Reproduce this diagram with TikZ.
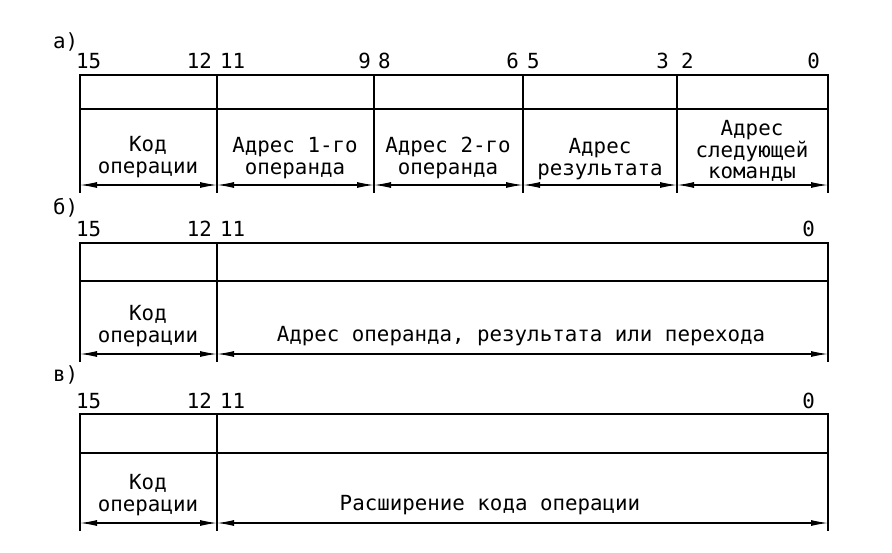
\documentclass[tikz,border=0pt]{standalone}
\usepackage{fontspec}
\setmainfont{DejaVu Sans Mono}
\usetikzlibrary{arrows.meta}
\begin{document}
\begin{tikzpicture}[x=1pt,y=-1pt]
\tikzset{
  reg/.style={line width=2.6pt},
  divline/.style={line width=1.7pt},
  dimline/.style={line width=1.2pt,{Latex[length=17pt,width=6pt]}-{Latex[length=17pt,width=6pt]}},
  txt/.style={font=\fontsize{20.8}{21.5}\selectfont,inner sep=0pt,align=center},
  numl/.style={txt,anchor=base west},
  numr/.style={txt,anchor=base east},
  part/.style={txt,anchor=west}
}
\useasboundingbox (0,0) rectangle (892,552);
\fill[white] (0,0) rectangle (892,552);

% ---------- a) ----------
\node[part] (la) at (53,42) {а)};
\foreach \n/\x in {0/80,1/217,2/374,3/523,4/677,5/828}{
  \coordinate (at\n) at (\x,75);
  \coordinate (ab\n) at (\x,193);
  \coordinate (aa\n) at (\x,185);
}
\draw[reg] (at0) rectangle (828,109);
\foreach \n in {0,...,5}{\draw[divline] (at\n) -- (ab\n);}
\foreach \a/\b in {0/1,1/2,2/3,3/4,4/5}{\draw[dimline] (aa\a) -- (aa\b);}
\node[numl] (a15) at (76,68) {15};
\node[numr] (a12) at (212,68) {12};
\node[numl] (a11) at (220,68) {11};
\node[numr] (a9) at (371,68) {9};
\node[numl] (a8) at (378,68) {8};
\node[numr] (a6) at (519,68) {6};
\node[numl] (a5) at (527,68) {5};
\node[numr] (a3) at (669,68) {3};
\node[numl] (a2) at (681,68) {2};
\node[numr] (a0) at (820,68) {0};
\node[txt] (af1) at (148,157) {Код\\операции};
\node[txt] (af2) at (295,158) {Адрес 1-го\\операнда};
\node[txt] (af3) at (448,158) {Адрес 2-го\\операнда};
\node[txt] (af4) at (600,159) {Адрес\\результата};
\node[txt] (af5) at (752,151) {Адрес\\следующей\\команды};

% ---------- b) ----------
\node[part] (lb) at (53,208) {б)};
\foreach \n/\x in {0/80,1/217,2/828}{
  \coordinate (bt\n) at (\x,243);
  \coordinate (bb\n) at (\x,362);
  \coordinate (ba\n) at (\x,354);
}
\draw[reg] (bt0) rectangle (828,281);
\foreach \n in {0,1,2}{\draw[divline] (bt\n) -- (bb\n);}
\foreach \a/\b in {0/1,1/2}{\draw[dimline] (ba\a) -- (ba\b);}
\node[numl] (b15) at (76,236) {15};
\node[numr] (b12) at (212,236) {12};
\node[numl] (b11) at (220,236) {11};
\node[numr] (b0) at (815,236) {0};
\node[txt] (bf1) at (148,326) {Код\\операции};
\node[txt] (bf2) at (521,336) {Адрес операнда, результата или перехода};

% ---------- c) ----------
\node[part] (lc) at (53,375) {в)};
\foreach \n/\x in {0/80,1/217,2/828}{
  \coordinate (ct\n) at (\x,414);
  \coordinate (cb\n) at (\x,531);
  \coordinate (ca\n) at (\x,523);
}
\draw[reg] (ct0) rectangle (828,453);
\foreach \n in {0,1,2}{\draw[divline] (ct\n) -- (cb\n);}
\foreach \a/\b in {0/1,1/2}{\draw[dimline] (ca\a) -- (ca\b);}
\node[numl] (c15) at (76,408) {15};
\node[numr] (c12) at (212,408) {12};
\node[numl] (c11) at (220,408) {11};
\node[numr] (c0) at (815,408) {0};
\node[txt] (cf1) at (148,495) {Код\\операции};
\node[txt] (cf2) at (490,505) {Расширение кода операции};
\end{tikzpicture}
\end{document}
